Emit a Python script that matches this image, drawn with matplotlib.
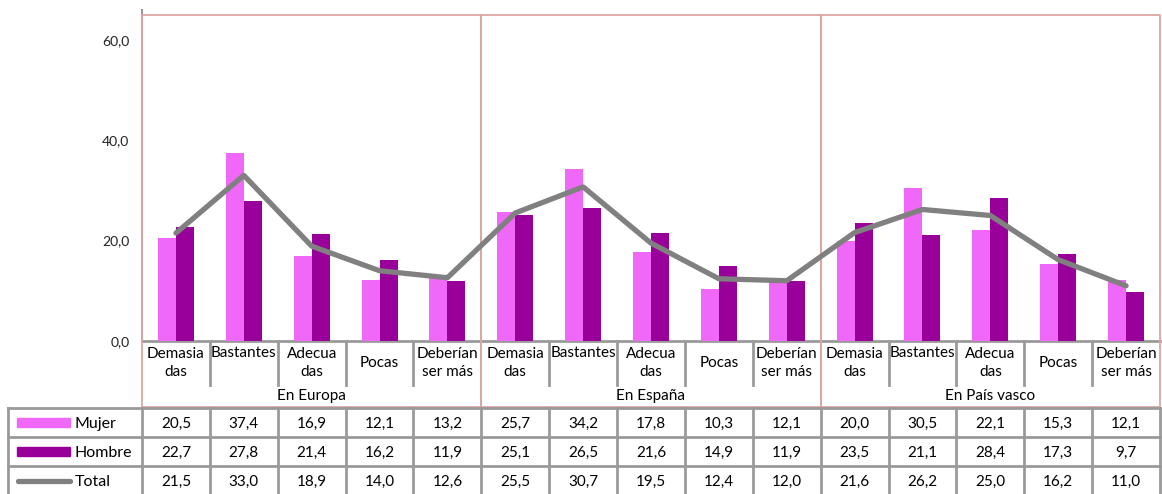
import matplotlib
matplotlib.use("Agg")
import matplotlib.pyplot as plt
import numpy as np

plt.rcParams['font.family'] = ['Lato', 'DejaVu Sans']

groups = ["En Europa", "En España", "En País vasco"]
categories = ["Demasia\ndas", "Bastantes", "Adecua\ndas", "Pocas", "Deberían\nser más"]
series_names = ["Mujer", "Hombre", "Total"]
mujer = [20.5, 37.4, 16.9, 12.1, 13.2, 25.7, 34.2, 17.8, 10.3, 12.1, 20.0, 30.5, 22.1, 15.3, 12.1]
hombre = [22.7, 27.8, 21.4, 16.2, 11.9, 25.1, 26.5, 21.6, 14.9, 11.9, 23.5, 21.1, 28.4, 17.3, 9.7]
total = [21.5, 33.0, 18.9, 14.0, 12.6, 25.5, 30.7, 19.5, 12.4, 12.0, 21.6, 26.2, 25.0, 16.2, 11.0]
yticks = [0, 20, 40, 60]

C_MUJER = "#F068F7"
C_HOMBRE = "#990099"
C_TOTAL = "#808080"
C_BOX = "#DDA6A3"
C_GRID = "#9A9A9A"
FS = 11

W, H = 1162, 494
fig = plt.figure(figsize=(W / 100, H / 100), dpi=100)

# layout in pixels
L, R = 142, 1160
T, B = 15, 341
n = len(mujer)
cw = (R - L) / n
ncat = len(categories)

# overlay axes in pixel coordinates for the data table and frames
ov = fig.add_axes([0, 0, 1, 1], zorder=0)
ov.set_xlim(0, W)
ov.set_ylim(H, 0)
ov.axis("off")

ax = fig.add_axes([L / W, (H - B) / H, (R - L) / W, (B - T) / H], zorder=1)
ax.patch.set_alpha(0)
x = np.arange(n)
bw = 18 / cw
ax.bar(x - bw / 2, mujer, bw, color=C_MUJER, label=series_names[0])
ax.bar(x + bw / 2, hombre, bw, color=C_HOMBRE, label=series_names[1])
ax.plot(x, total, color=C_TOTAL, lw=3.8, solid_capstyle="round", solid_joinstyle="round",
        label=series_names[2])
ax.set_xlim(-0.5, n - 0.5)
ax.set_ylim(0, (B - T) / 5.02)
ax.set_yticks(yticks)
ax.set_yticklabels([f"{v:.1f}".replace(".", ",") for v in yticks], fontsize=10, color="#222222")
ax.tick_params(axis="y", length=0, pad=9)
ax.set_xticks([])
for s in ax.spines.values():
    s.set_visible(False)

def cx(i):
    return L + (i + 0.5) * cw

# value axis and category axis lines
ov.plot([L, L], [10, B], color=C_GRID, lw=1.5)
ov.plot([L, R], [B, B], color=C_GRID, lw=2)

# category separators in the label area
for k in range(n + 1):
    xb = L + k * cw
    if k % ncat != 0:
        ov.plot([xb, xb], [B, 385], color=C_GRID, lw=2)

# group frames
for g in range(len(groups)):
    x0 = L + g * ncat * cw
    x1 = x0 + ncat * cw
    ov.plot([x0, x1, x1, x0, x0], [T, T, 407, 407, T], color=C_BOX, lw=1.3)
    ov.text((x0 + x1) / 2, 396, groups[g], ha="center", va="center", fontsize=FS)

# category labels
for i in range(n):
    lab = categories[i % ncat]
    if "\n" in lab:
        ov.text(cx(i), 363, lab, ha="center", va="center", fontsize=FS, linespacing=1.3)
    elif lab == "Bastantes":
        ov.text(cx(i), 353, lab, ha="center", va="center", fontsize=FS)
    else:
        ov.text(cx(i), 363, lab, ha="center", va="center", fontsize=FS)

# data table
rows_y = [408, 437, 466, 495]
for yy in rows_y:
    ov.plot([8, R], [yy, yy], color=C_GRID, lw=2)
for xb in [8] + [L + k * cw for k in range(n + 1)]:
    ov.plot([xb, xb], [408, 495], color=C_GRID, lw=2)

row_vals = [mujer, hombre, total]
for r, vals in enumerate(row_vals):
    yc = (rows_y[r] + rows_y[r + 1]) / 2
    for i, v in enumerate(vals):
        ov.text(cx(i), yc + 1, f"{v:.1f}".replace(".", ","), ha="center", va="center", fontsize=FS)
    ov.text(75, yc + 1, series_names[r], ha="left", va="center", fontsize=FS + 0.5)

# legend keys inside the table
ov.add_patch(plt.Rectangle((17, 418), 53, 9, color=C_MUJER))
ov.add_patch(plt.Rectangle((17, 447), 53, 9, color=C_HOMBRE))
ov.plot([18, 70], [481, 481], color=C_TOTAL, lw=3.8, solid_capstyle="round")

fig.savefig("out.png", dpi=100)
